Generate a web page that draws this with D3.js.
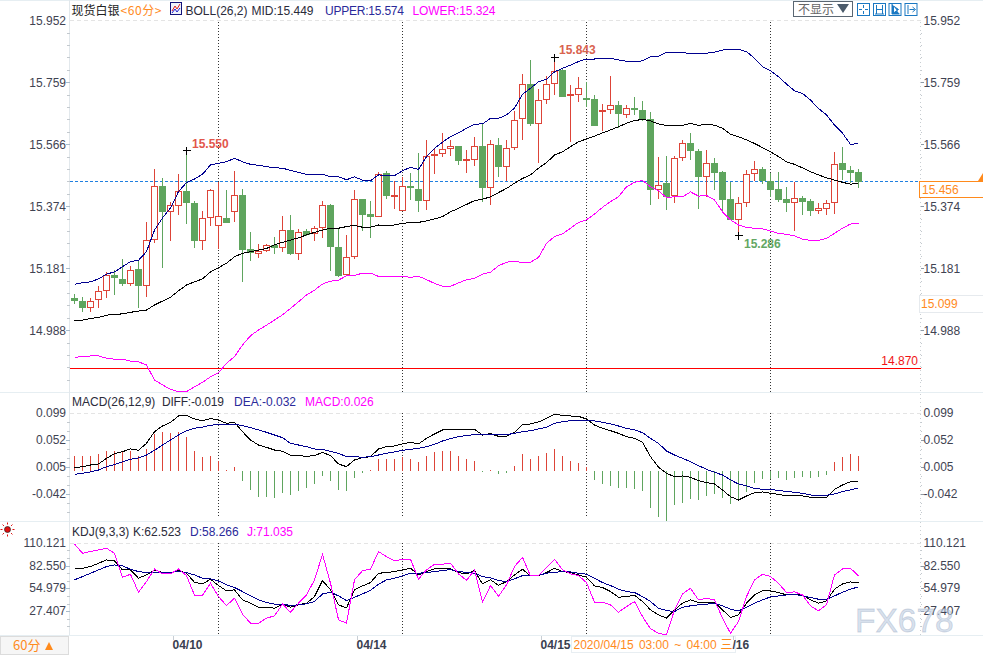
<!DOCTYPE html>
<html><head><meta charset="utf-8">
<script src="https://cdn.jsdelivr.net/npm/d3@7/dist/d3.min.js"></script>
<style>html,body{margin:0;padding:0;background:#fff;overflow:hidden}svg{display:block}text{font-family:"Liberation Sans",Arial,sans-serif;font-size:12px}.cjk{font-family:"Noto Sans CJK SC","Liberation Sans",sans-serif}</style>
</head><body><div id="chart"></div>
<script>
const candleOpen=[15.086,15.078,15.060,15.084,15.112,15.159,15.147,15.134,15.176,15.128,15.271,15.437,15.357,15.377,15.421,15.384,15.268,15.340,15.315,15.337,15.359,15.408,15.240,15.228,15.238,15.251,15.246,15.299,15.228,15.297,15.290,15.309,15.376,15.247,15.161,15.217,15.396,15.350,15.342,15.475,15.404,15.361,15.437,15.425,15.393,15.532,15.539,15.555,15.562,15.516,15.521,15.562,15.433,15.565,15.499,15.558,15.648,15.755,15.633,15.707,15.757,15.796,15.718,15.723,15.711,15.708,15.670,15.676,15.689,15.660,15.680,15.674,15.646,15.426,15.444,15.408,15.526,15.571,15.546,15.466,15.509,15.478,15.394,15.334,15.387,15.477,15.490,15.451,15.425,15.394,15.387,15.400,15.388,15.361,15.368,15.387,15.506,15.487,15.478];
const candleClose=[15.081,15.058,15.077,15.108,15.159,15.152,15.133,15.174,15.127,15.267,15.435,15.357,15.376,15.420,15.385,15.267,15.337,15.424,15.342,15.325,15.408,15.241,15.230,15.233,15.251,15.245,15.299,15.226,15.292,15.287,15.306,15.376,15.248,15.160,15.215,15.396,15.350,15.341,15.474,15.407,15.408,15.436,15.435,15.391,15.530,15.536,15.552,15.561,15.518,15.521,15.561,15.432,15.567,15.498,15.555,15.642,15.754,15.631,15.703,15.754,15.795,15.716,15.723,15.742,15.708,15.627,15.673,15.689,15.662,15.679,15.675,15.646,15.425,15.440,15.406,15.524,15.570,15.547,15.466,15.508,15.478,15.394,15.334,15.383,15.474,15.488,15.456,15.426,15.394,15.385,15.399,15.388,15.361,15.368,15.383,15.505,15.488,15.479,15.451];
const candleHigh=[15.103,15.093,15.089,15.129,15.170,15.178,15.212,15.191,15.207,15.328,15.493,15.465,15.388,15.477,15.547,15.391,15.361,15.430,15.451,15.425,15.487,15.430,15.295,15.257,15.259,15.280,15.347,15.349,15.306,15.306,15.313,15.391,15.384,15.307,15.285,15.425,15.398,15.391,15.482,15.487,15.456,15.466,15.480,15.542,15.583,15.553,15.605,15.581,15.562,15.550,15.593,15.631,15.583,15.589,15.581,15.672,15.788,15.830,15.740,15.783,15.838,15.804,15.755,15.780,15.764,15.724,15.693,15.783,15.705,15.690,15.715,15.705,15.671,15.529,15.534,15.534,15.581,15.605,15.553,15.550,15.526,15.487,15.453,15.404,15.490,15.518,15.498,15.479,15.482,15.435,15.453,15.409,15.397,15.385,15.394,15.544,15.559,15.500,15.493];
const candleLow=[15.072,15.048,15.046,15.058,15.089,15.098,15.129,15.129,15.058,15.093,15.261,15.183,15.269,15.350,15.321,15.245,15.241,15.314,15.243,15.325,15.326,15.141,15.204,15.215,15.233,15.228,15.233,15.223,15.207,15.282,15.267,15.276,15.173,15.157,15.160,15.212,15.298,15.276,15.341,15.400,15.368,15.360,15.394,15.357,15.363,15.477,15.529,15.531,15.503,15.479,15.501,15.388,15.381,15.466,15.456,15.550,15.581,15.625,15.510,15.695,15.721,15.716,15.575,15.700,15.684,15.627,15.609,15.664,15.620,15.651,15.659,15.643,15.381,15.397,15.363,15.387,15.518,15.521,15.366,15.404,15.425,15.357,15.332,15.283,15.373,15.456,15.446,15.404,15.388,15.357,15.300,15.349,15.347,15.352,15.350,15.352,15.459,15.448,15.432];
const bollUpper=[15.131,15.136,15.139,15.148,15.163,15.170,15.186,15.202,15.206,15.233,15.300,15.338,15.369,15.420,15.448,15.459,15.474,15.503,15.508,15.513,15.524,15.513,15.505,15.502,15.498,15.494,15.493,15.486,15.480,15.474,15.474,15.474,15.466,15.466,15.457,15.466,15.456,15.454,15.472,15.470,15.470,15.485,15.496,15.489,15.529,15.555,15.574,15.591,15.603,15.617,15.630,15.631,15.648,15.648,15.659,15.680,15.723,15.742,15.762,15.770,15.793,15.804,15.814,15.825,15.833,15.833,15.834,15.835,15.830,15.826,15.826,15.827,15.840,15.842,15.854,15.854,15.854,15.849,15.851,15.851,15.854,15.861,15.862,15.863,15.856,15.835,15.809,15.796,15.778,15.755,15.734,15.726,15.705,15.679,15.659,15.627,15.602,15.567,15.570];
const bollMid=[15.019,15.020,15.025,15.028,15.035,15.038,15.039,15.044,15.048,15.051,15.067,15.079,15.091,15.111,15.129,15.139,15.148,15.170,15.183,15.197,15.217,15.228,15.233,15.238,15.243,15.254,15.262,15.269,15.276,15.285,15.293,15.300,15.306,15.306,15.311,15.315,15.309,15.309,15.316,15.313,15.316,15.321,15.324,15.324,15.329,15.335,15.342,15.357,15.368,15.380,15.392,15.396,15.404,15.417,15.430,15.446,15.461,15.472,15.493,15.510,15.534,15.544,15.560,15.575,15.584,15.593,15.603,15.612,15.622,15.633,15.641,15.645,15.640,15.631,15.626,15.626,15.626,15.633,15.626,15.630,15.627,15.617,15.599,15.591,15.581,15.570,15.557,15.544,15.529,15.513,15.505,15.494,15.482,15.472,15.463,15.456,15.449,15.443,15.447];
const bollLower=[14.904,14.906,14.908,14.908,14.901,14.898,14.898,14.892,14.890,14.880,14.833,14.818,14.804,14.797,14.797,14.812,14.826,14.843,14.856,14.885,14.906,14.942,14.971,14.989,15.004,15.020,15.036,15.056,15.077,15.098,15.113,15.132,15.141,15.144,15.158,15.159,15.166,15.166,15.156,15.156,15.156,15.156,15.153,15.156,15.146,15.134,15.125,15.125,15.136,15.145,15.150,15.163,15.169,15.189,15.200,15.203,15.199,15.200,15.215,15.259,15.280,15.288,15.306,15.324,15.332,15.350,15.371,15.389,15.404,15.435,15.449,15.455,15.435,15.423,15.401,15.404,15.404,15.419,15.406,15.408,15.394,15.357,15.332,15.316,15.308,15.306,15.304,15.297,15.290,15.287,15.282,15.272,15.268,15.268,15.274,15.290,15.306,15.319,15.321];
const macdBar=[0.0253,0.0253,0.0253,0.0282,0.0351,0.0351,0.0322,0.0334,0.0264,0.0369,0.0630,0.0665,0.0653,0.0665,0.0578,0.0334,0.0230,0.0264,0.0160,0.0020,0.0056,-0.0182,-0.0345,-0.0450,-0.0466,-0.0484,-0.0397,-0.0432,-0.0362,-0.0310,-0.0240,-0.0101,-0.0180,-0.0345,-0.0362,-0.0136,-0.0049,0.0020,0.0195,0.0210,0.0210,0.0230,0.0210,0.0143,0.0247,0.0317,0.0351,0.0351,0.0264,0.0195,0.0177,-0.0031,0.0020,-0.0066,-0.0049,0.0073,0.0282,0.0210,0.0247,0.0300,0.0369,0.0264,0.0177,0.0125,0.0056,-0.0170,-0.0240,-0.0259,-0.0310,-0.0310,-0.0327,-0.0362,-0.0658,-0.0814,-0.0884,-0.0606,-0.0565,-0.0501,-0.0519,-0.0449,-0.0414,-0.0484,-0.0588,-0.0519,-0.0379,-0.0223,-0.0153,-0.0153,-0.0136,-0.0170,-0.0136,-0.0118,-0.0136,-0.0118,-0.0084,0.0143,0.0230,0.0282,0.0264];
const macdDiff=[0.0044,0.0061,0.0090,0.0108,0.0206,0.0288,0.0322,0.0369,0.0346,0.0467,0.0670,0.0769,0.0833,0.0943,0.0955,0.0891,0.0862,0.0897,0.0873,0.0815,0.0833,0.0670,0.0525,0.0438,0.0398,0.0351,0.0328,0.0259,0.0253,0.0241,0.0253,0.0311,0.0253,0.0108,0.0061,0.0177,0.0218,0.0235,0.0369,0.0409,0.0421,0.0456,0.0485,0.0456,0.0554,0.0630,0.0700,0.0711,0.0711,0.0700,0.0711,0.0612,0.0636,0.0589,0.0589,0.0659,0.0798,0.0804,0.0839,0.0902,0.0971,0.0955,0.0943,0.0937,0.0891,0.0786,0.0728,0.0688,0.0641,0.0583,0.0554,0.0485,0.0235,0.0050,-0.0054,-0.0113,-0.0101,-0.0124,-0.0182,-0.0217,-0.0240,-0.0345,-0.0461,-0.0519,-0.0449,-0.0391,-0.0379,-0.0403,-0.0421,-0.0449,-0.0449,-0.0449,-0.0472,-0.0472,-0.0472,-0.0333,-0.0258,-0.0200,-0.0188];
const macdDea=[-0.0072,-0.0055,-0.0031,0.0003,0.0061,0.0096,0.0143,0.0189,0.0212,0.0264,0.0346,0.0438,0.0525,0.0612,0.0688,0.0729,0.0751,0.0781,0.0798,0.0798,0.0798,0.0775,0.0740,0.0700,0.0659,0.0612,0.0566,0.0467,0.0438,0.0409,0.0369,0.0363,0.0328,0.0293,0.0235,0.0235,0.0224,0.0235,0.0264,0.0293,0.0317,0.0346,0.0363,0.0380,0.0409,0.0450,0.0508,0.0549,0.0583,0.0606,0.0618,0.0624,0.0624,0.0624,0.0618,0.0641,0.0670,0.0688,0.0717,0.0746,0.0815,0.0844,0.0862,0.0868,0.0868,0.0856,0.0833,0.0804,0.0769,0.0728,0.0700,0.0653,0.0554,0.0467,0.0334,0.0264,0.0206,0.0148,0.0079,0.0015,-0.0037,-0.0084,-0.0170,-0.0240,-0.0275,-0.0316,-0.0333,-0.0333,-0.0356,-0.0367,-0.0385,-0.0403,-0.0432,-0.0437,-0.0437,-0.0414,-0.0373,-0.0345,-0.0310];
const kdjK=[79.9,79.9,82.0,86.0,90.0,88.8,77.9,77.9,67.9,71.9,77.9,74.7,74.7,77.1,73.9,63.0,61.0,66.7,59.0,52.6,53.8,41.7,37.7,32.8,32.8,31.6,36.5,32.8,35.7,37.7,45.7,65.0,53.8,35.7,32.0,53.8,58.6,62.6,73.9,74.7,75.9,77.9,79.9,71.9,75.9,79.1,79.1,79.5,74.7,73.1,77.1,61.0,65.9,59.4,63.8,71.9,78.7,70.7,71.1,74.7,79.9,75.9,74.7,71.9,69.1,58.6,56.6,51.8,44.9,45.7,47.3,39.7,29.6,23.6,19.6,29.6,37.7,41.7,38.5,38.9,38.9,29.6,20.4,23.6,37.7,47.7,52.6,52.6,50.6,47.7,47.7,47.7,41.7,37.7,40.5,54.6,61.0,63.4,62.5];
const kdjD=[65.9,69.9,73.9,77.9,82.0,84.0,82.8,78.7,75.9,74.7,75.1,74.7,75.1,75.9,74.7,71.9,67.9,67.1,64.6,59.8,56.6,51.8,46.5,41.7,38.5,36.5,36.5,34.9,35.7,36.9,39.7,48.9,51.0,46.5,40.9,44.9,48.9,53.4,60.6,65.9,67.9,70.7,73.9,73.9,74.7,75.9,77.1,78.3,75.9,75.1,73.9,69.9,68.3,65.0,63.8,67.1,71.1,71.5,71.5,73.9,75.1,75.9,75.5,73.9,72.7,67.9,62.6,59.0,54.6,51.8,50.6,45.7,39.7,31.6,28.8,27.6,32.8,34.5,35.7,36.5,37.7,34.5,30.4,28.4,32.8,37.7,41.7,45.3,46.5,47.7,48.1,46.9,44.5,42.5,42.5,46.5,51.0,54.6,57.5];
const kdjJ=[109.3,98.1,100.1,102.1,104.1,98.1,69.1,72.7,51.0,63.8,79.1,73.1,73.1,79.1,71.1,47.3,47.3,61.8,45.7,34.9,43.7,24.4,13.5,13.5,19.6,22.4,36.5,26.8,37.7,47.7,65.9,96.8,61.8,17.6,13.5,65.9,77.1,78.7,100.1,94.0,88.8,90.8,90.8,66.7,77.9,84.8,84.8,86.0,73.1,65.4,77.5,38.9,59.0,46.1,59.8,82.0,93.2,70.7,71.5,80.7,90.8,77.9,73.1,71.1,62.6,38.9,38.9,35.7,26.8,33.6,39.7,21.6,6.7,1.4,-0.6,29.6,48.9,55.8,41.7,43.7,41.7,19.6,1.4,15.5,45.7,65.9,72.7,69.9,61.8,50.6,51.4,47.7,34.5,28.4,35.7,71.9,79.1,79.9,70.7];
const priceTicks=[15.952,15.759,15.566,15.374,15.181,14.988];
const macdTicks=[0.099,0.052,0.005,-0.042];
const kdjTicks=[110.121,82.550,54.979,27.407];
const dayBars=[18,41,64,87];
const dateLabels=["04/10","04/14","04/15","/16"];
const dateBars=[12.5,35.5,58.5,82.5];
const extremes=[{i:14,v:15.547,t:"15.550",c:"#e2564b"},{i:60,v:15.838,t:"15.843",c:"#d9634f"},{i:83,v:15.283,t:"15.286",c:"#63a763"}];
const lastPrice=15.451, support=14.870, cursorPrice=15.099;

const W=983,H=655,RED="#dd4438",GREEN="#5fa55e",NAVY="#00008f",MAG="#ff00ff",ORG="#ff8a1c",TXT="#3f4352",SEP="#e6eef2";
const svg=d3.select("#chart").append("svg").attr("width",W).attr("height",H).attr("viewBox",[0,0,W,H]);
const x=d3.scaleLinear().domain([0,98]).range([74.5,858.5]);
const yP=d3.scaleLinear().domain([15.952,14.988]).range([20.8,330.3]);
const yM=d3.scaleLinear().domain([0.099,-0.042]).range([413.3,494.3]);
const yK=d3.scaleLinear().domain([110.121,27.407]).range([543.3,611.7]);
const L=69.5,R=920.5;
const snap=v=>Math.round(v-0.5)+0.5;
const hl=(yy,x1,x2,c,dash,w)=>svg.append("line").attr("x1",x1).attr("x2",x2).attr("y1",yy).attr("y2",yy).attr("stroke",c).attr("stroke-width",w||1).attr("stroke-dasharray",dash||null).attr("shape-rendering","crispEdges");
const vl=(xx,y1,y2,c,dash)=>svg.append("line").attr("x1",xx).attr("x2",xx).attr("y1",y1).attr("y2",y2).attr("stroke",c).attr("stroke-width",1).attr("stroke-dasharray",dash||null).attr("shape-rendering","crispEdges");
const txt=(t,xx,yy,o={})=>{const e=svg.append("text").attr("x",xx).attr("y",yy).attr("fill",o.c||TXT).attr("text-anchor",o.a||"start").attr("font-weight",o.w||null).attr("class",o.cls||null).style("word-spacing",o.ws||null).style("font-size",o.s||null).text(t);if(o.len)e.attr("textLength",o.len);return e;};

// frame
[0.5,392.5,521.5,635.5].forEach(v=>hl(v,0,W,SEP));
vl(L,0,635,"#e2e8ec");
vl(R,22,635,"#c9ced2","1 3");
[snap(yP(15.952)),snap(yM(0.099)),snap(yK(110.121))].forEach(v=>hl(v,L,R,"#e4e4e4","4 3"));

// axes with minors
function axis(scale,ticks,labelDigits,minorCount,dy){
  const step=ticks[0]-ticks[1];
  ticks.forEach((t,k)=>{
    const yy=snap(scale(t));
    if(k>0){hl(yy,66,L,"#a9bccb");hl(yy,R,924,"#8f9aa5");}
    const lab=t.toFixed(labelDigits);
    svg.append("text").attr("x",66).attr("y",yy+dy).attr("text-anchor","end").attr("fill",TXT).text(lab);
    svg.append("text").attr("x",923.5).attr("y",yy+dy).attr("fill",TXT).text(lab);
  });
  d3.range(-1,ticks.length).forEach(k=>{
    d3.range(1,minorCount).forEach(m=>{
      const v=ticks[0]-step*(k+m/minorCount);
      const yy=scale(v);
      if(yy<scale(ticks[0])||yy>(scale===yP?390:scale===yM?518:632))return;
      const s=snap(yy);
      hl(s,67,L,"#c3c9ce");hl(s,R,922,"#c3c9ce");
    });
  });
}
axis(yP,priceTicks,3,5,4);axis(yM,macdTicks,3,3,3);axis(yK,kdjTicks,3,3,3);

// day separators
dayBars.forEach(d=>{
  const X=x(d);
  [[22,392],[413,518],[543,634]].forEach(s=>vl(X,s[0],s[1],"#333","1 2"));
});

// reference lines
hl(snap(yP(lastPrice)),L,R,"#1f7fe0","3 2");
hl(snap(yP(support)),L,R,"#ff0000");
txt(support.toFixed(3),918,365,{c:"#f01414",a:"end"});

// candles
const idx=d3.range(candleOpen.length);
const candles=svg.append("g");
idx.forEach(i=>{
  const up=candleClose[i]>=candleOpen[i], col=up?RED:GREEN, X=x(i);
  candles.append("line").attr("x1",X).attr("x2",X).attr("y1",snap(yP(candleHigh[i]))).attr("y2",snap(yP(candleLow[i]))).attr("stroke",col).attr("shape-rendering","crispEdges");
  const t=snap(yP(Math.max(candleOpen[i],candleClose[i]))),b=snap(yP(Math.min(candleOpen[i],candleClose[i])));
  candles.append("rect").attr("x",X-3).attr("width",6).attr("y",t).attr("height",Math.max(1,b-t)).attr("fill",up?"#fff":GREEN).attr("stroke",col).attr("shape-rendering","crispEdges");
});

// lines
const lineOf=(s)=>d3.line().x((d,i)=>x(i)).y(d=>s(d));
const draw=(arr,s,c)=>svg.append("path").attr("d",lineOf(s)(arr)).attr("fill","none").attr("stroke",c).attr("stroke-width",1).attr("shape-rendering","crispEdges");
draw(bollUpper,yP,NAVY);draw(bollMid,yP,"#000");draw(bollLower,yP,MAG);

// extremes
extremes.forEach(e=>{
  const X=x(e.i),Y=snap(yP(e.v));
  hl(Y,X-3.5,X+4,"#000");vl(X,Y-3.5,Y+4,"#000");
});
txt(extremes[0].t,192,147.5,{c:extremes[0].c,w:"bold"});
txt(extremes[1].t,559,53.5,{c:extremes[1].c,w:"bold"});
txt(extremes[2].t,744,247.5,{c:extremes[2].c,w:"bold"});

// MACD
idx.forEach(i=>{
  const v=macdBar[i],X=x(i);
  vl(X,snap(yM(Math.max(v,0))),snap(yM(Math.min(v,0))),v>=0?RED:GREEN);
});
draw(macdDiff,yM,"#000");draw(macdDea,yM,NAVY);

// KDJ
draw(kdjK,yK,"#000");draw(kdjD,yK,NAVY);draw(kdjJ,yK,MAG);

// titles
txt("现货白银",71.5,14.5,{c:"#222",cls:"cjk"});
txt("<60分>",120.5,14.5,{c:ORG,cls:"cjk",len:41});
txt("BOLL(26,2)",185.5,14.5,{c:"#2b2b3a"});
txt("MID:15.449",251.5,14.5,{c:"#2b2b3a"});
txt("UPPER:15.574",325,14.5,{c:"#2a2a9a",len:79});
txt("LOWER:15.324",412.5,14.5,{c:MAG,len:83});
txt("MACD(26,12,9)",72,405.5,{c:"#2b2b3a"});
txt("DIFF:-0.019",162,405.5,{c:"#2b2b3a",len:62});
txt("DEA:-0.032",234,405.5,{c:"#2a2a9a"});
txt("MACD:0.026",305,405.5,{c:MAG});
txt("KDJ(9,3,3)",72,535.5,{c:"#2b2b3a"});
txt("K:62.523",133,535.5,{c:"#2b2b3a"});
txt("D:58.266",190,535.5,{c:"#2a2a9a"});
txt("J:71.035",247,535.5,{c:MAG});

// boll icon
svg.append("rect").attr("x",170.5).attr("y",2.5).attr("width",11).attr("height",12).attr("fill","#eef3fb").attr("stroke","#12127a");
svg.append("path").attr("d","M172 11L175 6L177 9L180 4").attr("fill","none").attr("stroke","#e02020");
svg.append("path").attr("d","M172 13L175 9L177 12L180 8").attr("fill","none").attr("stroke","#2020d0");

// toolbar
svg.append("rect").attr("x",793.5).attr("y",1.5).attr("width",59).attr("height",15).attr("fill","#fff").attr("stroke","#5a6672");
txt("不显示",798,14,{c:"#666",cls:"cjk"});
svg.append("path").attr("d","M837 4H849L843 13Z").attr("fill","#4a5a6a");
[857,873,888.5,904.5].forEach((ix,k)=>{
  const g=svg.append("g").attr("transform",`translate(${ix},3)`);
  g.append("rect").attr("x",0.5).attr("y",0.5).attr("width",12).attr("height",12).attr("fill","#fff").attr("stroke","#1a78c2");
  const P=["M6.5 2V5M6.5 8V11M2 6.5H5M8 6.5H11","M3.5 2V11M9.5 2V11M2 11H11M3.5 6.5H9.5","M3.5 1V11H11M5 3L10 6.5L5 10Z","M3.5 2V11M5 6.5H10M8 4L11 6.5L8 9"];
  g.append("path").attr("d",P[k]).attr("fill",k===2?"#1a78c2":"none").attr("stroke","#1a78c2");
});

// price labels at right
svg.append("rect").attr("x",919.5).attr("y",181.5).attr("width",64).attr("height",16).attr("fill","#fff").attr("stroke",ORG);
txt("15.456",922,194,{c:ORG});
svg.append("rect").attr("x",919.5).attr("y",295.5).attr("width",64).attr("height",17).attr("fill","#fff").attr("stroke","#e6eaee");
txt(cursorPrice.toFixed(3),921,307.5,{c:ORG});
svg.append("path").attr("d","M983 173L978 181H983Z").attr("fill",ORG);

// sun icon
const sun=svg.append("g").attr("transform","translate(7.5,529.5)");
sun.append("circle").attr("r",3).attr("fill","#e01010").attr("stroke","#222").attr("stroke-width",.7);
d3.range(8).forEach(k=>{
  const a=k*Math.PI/4;
  sun.append("line").attr("x1",5*Math.cos(a)).attr("y1",5*Math.sin(a)).attr("x2",7*Math.cos(a)).attr("y2",7*Math.sin(a)).attr("stroke","#e01010");
});

// bottom
svg.append("rect").attr("x",0.5).attr("y",636.5).attr("width",68).attr("height",18).attr("fill","#f6f6f6").attr("stroke","#dcdcdc");
txt("60分",13,650,{c:ORG,cls:"cjk",s:"13px"});
svg.append("path").attr("d","M45 650L49 642L53 650Z").attr("fill",ORG);
svg.append("rect").attr("x",571.5).attr("y",636.5).attr("width",164).attr("height",16).attr("fill","#fff").attr("stroke","#e8eef2");
dateLabels.forEach((d,k)=>{
  const X=x(dateBars[k]);
  vl(snap(X-1.5),636,640,"#c8ced4");
  txt(d,X-2,648.5,{w:"bold",c:"#3a4050"});
});
txt("2020/04/15 03:00 ~ 04:00",573.5,648.5,{c:ORG,ws:"2px"});
txt("三",720.5,649,{c:ORG,cls:"cjk"});

// watermark
svg.append("text").attr("x",855).attr("y",632).attr("fill","rgba(190,206,226,.62)").attr("stroke","rgba(150,165,190,.4)").attr("stroke-width",.8).style("font-size","33.5px").text("FX678");
</script></body></html>
